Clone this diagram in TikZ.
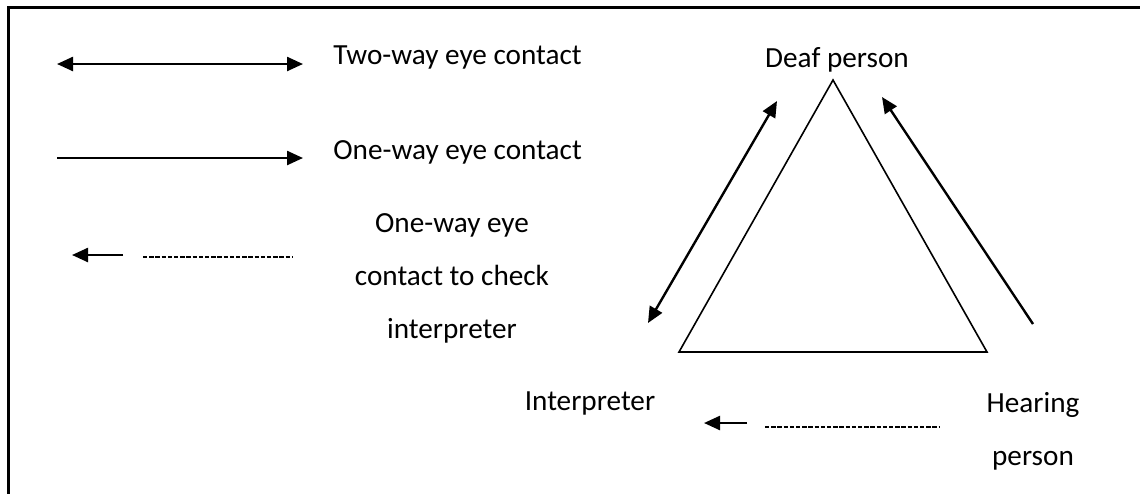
\documentclass[tikz,border=0pt]{standalone}
\usepackage{fontspec}
\setmainfont{Carlito}
\usetikzlibrary{arrows.meta,positioning}
\tikzset
{
    person/.style    = {align=center, inner sep=0pt, font=\fontsize{14.6}{26.5}\selectfont},
    legendtext/.style = {align=center, inner sep=0pt, font=\fontsize{14.6}{26.5}\selectfont},
    oneway/.style    = {line width=1.2pt, -{Triangle[length=8pt,width=7pt]}},
    twoway/.style    = {line width=1.2pt, {Triangle[length=8pt,width=7pt]}-{Triangle[length=8pt,width=7pt]}},
    checkline/.style = {line width=0.6pt, dash pattern=on 2.2pt off 0.9pt},
    trianglebox/.style = {line width=0.8pt, line join=miter},
    frame/.style     = {line width=1.5pt}
}

\begin{document}
\begin{tikzpicture}[x=0.5pt, y=-0.5pt]
   \useasboundingbox (0,0) rectangle (1140,494);
   \draw[frame] (1140,7) -- (8,7) -- (8,494);

   % legend
   \coordinate (twl) at (57,64);
   \coordinate (twr) at (303,64);
   \coordinate (owl) at (57,158);
   \coordinate (owr) at (303,158);
   \coordinate (chl) at (72,255);
   \coordinate (chr) at (123,255);
   \coordinate (cdl) at (143,257);
   \coordinate (cdr) at (293,257);
   \node (twtext) [legendtext, anchor=base west] at (333,64)  {Two-way eye contact};
   \node (owtext) [legendtext, anchor=base west] at (333,159) {One-way eye contact};
   \node (chtext) [legendtext, anchor=north]     at (452,213) {One-way eye \\ contact to check \\ interpreter};

   % triangle of people
   \coordinate (apex)  at (833,80);
   \coordinate (basel) at (679,352);
   \coordinate (baser) at (987,352);
   \node (deaf)    [person, anchor=base]  at (837,67)  {Deaf person};
   \node (interp)  [person, anchor=base]  at (590,410) {Interpreter};
   \node (hearing) [person, anchor=north] at (1033,392) {Hearing \\ person};

   \coordinate (dit) at (777,101);
   \coordinate (dib) at (648,323);
   \coordinate (hdb) at (1033,324);
   \coordinate (hdt) at (882,97);
   \coordinate (hil) at (704,423);
   \coordinate (hir) at (747,423);
   \coordinate (hdl) at (765,427);
   \coordinate (hdr) at (940,427);

   \draw[trianglebox] (apex) -- (basel) -- (baser) -- cycle;

   \draw[twoway]    (twl) -- (twr);
   \draw[oneway]    (owl) -- (owr);
   \draw[oneway]    (chr) -- (chl);
   \draw[checkline] (cdl) -- (cdr);
   \draw[twoway]    (dib) -- (dit);
   \draw[oneway]    (hdb) -- (hdt);
   \draw[oneway]    (hir) -- (hil);
   \draw[checkline] (hdl) -- (hdr);
\end{tikzpicture}
\end{document}
